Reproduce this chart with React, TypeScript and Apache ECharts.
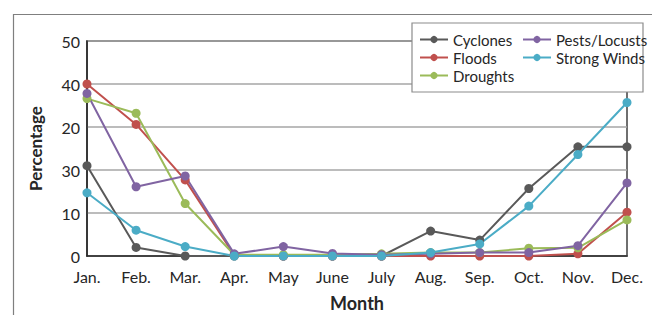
import React, { useEffect, useRef } from "react";
import * as echarts from "echarts";

const months = ["Jan.", "Feb.", "Mar.", "Apr.", "May", "June", "July", "Aug.", "Sep.", "Oct.", "Nov.", "Dec."];
const yTickLabels = ["0", "10", "30", "20", "40", "50"];

const cyclones = [21.0, 2.0, 0, 0, 0, 0, 0, 5.8, 3.7, 15.7, 25.4, 25.4];
const floods = [40.0, 30.6, 17.7, 0.2, 0, 0, 0, 0, 0, 0, 0.5, 10.2];
const droughts = [36.6, 33.2, 12.2, 0.3, 0.3, 0.3, 0.5, 0.8, 0.8, 1.8, 1.9, 8.4];
const pests = [37.8, 16.1, 18.6, 0.5, 2.2, 0.6, 0.3, 0.5, 0.8, 0.8, 2.4, 17.0];
const strongWinds = [14.7, 6.0, 2.2, 0, 0, 0, 0, 0.8, 2.8, 11.6, 23.6, 35.7];

const seriesDefs = [
  { name: "Cyclones", data: cyclones, color: "#595959" },
  { name: "Floods", data: floods, color: "#c0504d" },
  { name: "Droughts", data: droughts, color: "#9bbb59" },
  { name: "Pests/Locusts", data: pests, color: "#8064a2" },
  { name: "Strong Winds", data: strongWinds, color: "#4bacc6" },
];

const FONT = "Lato";

export default function App() {
  const ref = useRef<HTMLDivElement>(null);
  useEffect(() => {
    if (!ref.current) return;
    const chart = echarts.init(ref.current, null, { renderer: "svg" });
    const legendText = { fontFamily: FONT, fontSize: 15, color: "#262626" };
    chart.setOption({
      animation: false,
      backgroundColor: "#fff",
      grid: {
        left: 87,
        right: 25,
        top: 41,
        bottom: 59,
        show: true,
        borderColor: "#404040",
        borderWidth: 1.5,
        outerBoundsMode: "none",
        containLabel: false,
      },
      xAxis: {
        type: "category",
        data: months,
        boundaryGap: false,
        name: "Month",
        nameLocation: "middle",
        nameGap: 38,
        nameTextStyle: { fontFamily: FONT, fontSize: 18, fontWeight: "bold", color: "#262626" },
        axisLine: { lineStyle: { color: "#262626", width: 1.5 } },
        axisTick: { show: false },
        axisLabel: { fontFamily: FONT, fontSize: 16, color: "#262626", margin: 12, interval: 0 },
        splitLine: { show: false },
      },
      yAxis: {
        type: "value",
        min: 0,
        max: 50,
        interval: 10,
        name: "Percentage",
        nameLocation: "middle",
        nameGap: 43,
        nameTextStyle: { fontFamily: FONT, fontSize: 17, fontWeight: "bold", color: "#262626" },
        axisLine: { show: true, lineStyle: { color: "#262626", width: 1.5 } },
        axisTick: { show: false },
        axisLabel: {
          fontFamily: FONT,
          fontSize: 16,
          color: "#262626",
          margin: 7,
          formatter: (v: number) => yTickLabels[Math.round(v / 10)] ?? "",
        },
        splitLine: { lineStyle: { color: "#a6a6a6", width: 1.5 } },
      },
      legend: [
        {
          data: ["Cyclones", "Floods", "Droughts"],
          orient: "vertical",
          left: 414,
          top: 27,
          itemWidth: 28,
          itemHeight: 9,
          itemGap: 3,
          textStyle: legendText,
          z: 12,
        },
        {
          data: ["Pests/Locusts", "Strong Winds"],
          orient: "vertical",
          left: 517,
          top: 27,
          itemWidth: 28,
          itemHeight: 9,
          itemGap: 3,
          textStyle: legendText,
          z: 12,
        },
      ],
      graphic: [
        {
          type: "rect",
          shape: { x: 412, y: 23, width: 231, height: 69 },
          style: { fill: "#fff", stroke: "#8c8c8c", lineWidth: 1.2 },
          z: 10,
        },
        {
          type: "polyline",
          shape: { points: [[13.5, 315], [13.5, 14.5], [652, 14.5]] },
          style: { fill: "none", stroke: "#7f7f7f", lineWidth: 1.2 },
          z: 10,
        },
      ],
      series: seriesDefs.map((s) => ({
        name: s.name,
        type: "line",
        data: s.data,
        symbol: "circle",
        symbolSize: 9,
        lineStyle: { color: s.color, width: 2 },
        itemStyle: { color: s.color },
        z: 3,
      })),
    });
    return () => chart.dispose();
  }, []);
  return <div ref={ref} style={{ position: "fixed", left: 0, top: 0, width: 652, height: 315 }} />;
}
